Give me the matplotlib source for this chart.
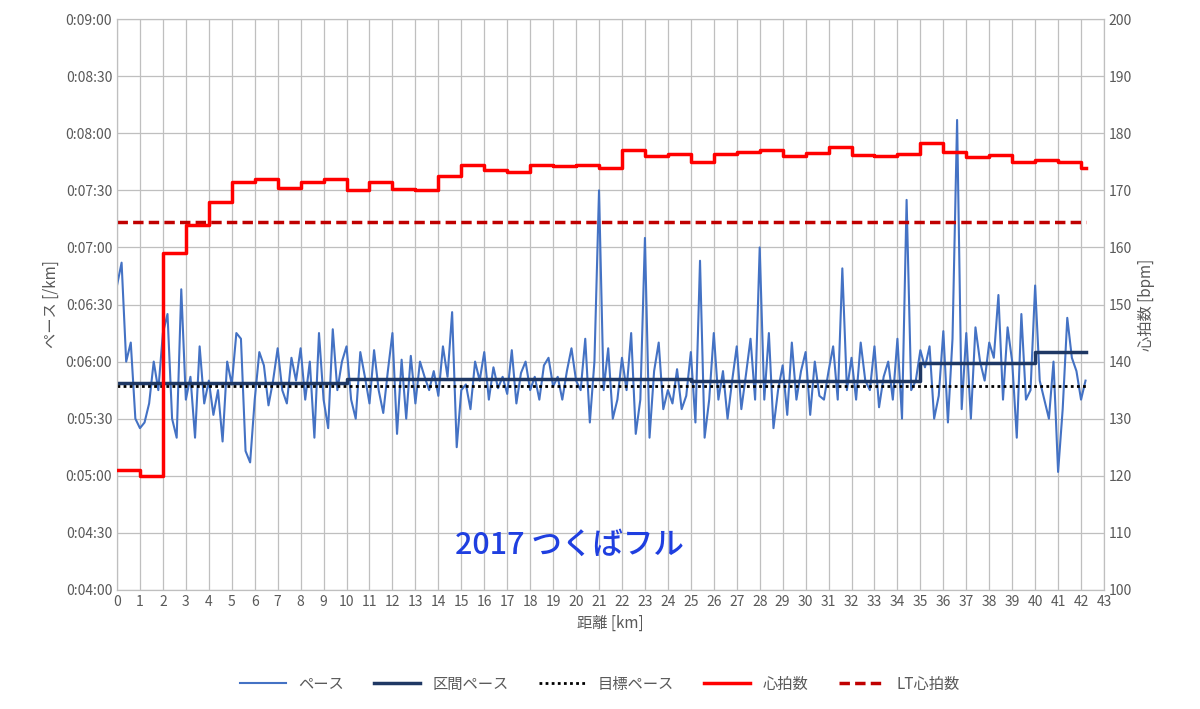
import matplotlib
matplotlib.use("Agg")
import matplotlib.pyplot as plt
import numpy as np
from matplotlib.ticker import FuncFormatter, MultipleLocator

plt.rcParams['font.family'] = ['Noto Sans CJK JP', 'DejaVu Sans']

pace_sec = [400,412,360,370,330, 325,328,338,360,345, 375,385,330,320,398,
 340,352,320,368,338, 350,332,345,318,360, 348,375,372,313,307,
 340,365,358,337,350, 367,345,338,362,350, 367,340,360,320,375,
 340,325,377,345,360, 368,340,330,365,352, 338,366,345,333,355,
 375,322,361,330,363, 338,360,352,345,355, 342,368,352,386,315,
 345,348,335,360,350, 365,340,357,346,352, 343,366,338,354,360,
 345,352,340,358,362, 347,352,340,355,367, 350,345,372,328,360,
 450,345,367,330,340, 362,345,375,322,340, 425,320,355,370,335,
 345,338,356,335,342, 365,328,413,320,340, 375,340,355,330,350,
 368,335,353,372,340, 420,340,375,325,345, 358,332,370,340,355,
 365,332,360,342,340, 355,368,340,409,345, 362,340,370,350,345,
 368,336,352,360,340, 372,330,445,345,350, 366,357,368,330,342,
 376,328,372,487,335, 375,330,378,360,350, 370,362,395,340,378,
 360,320,385,340,345, 400,350,340,330,360, 302,335,383,362,355,
 340,350]
pace_km = [i*0.2 for i in range(len(pace_sec))]
pace_km[-1] = 42.195

hr_edges = list(range(0, 43)) + [42.195]
hr_values = [121,120,159,164,168,171.5,172,170.5,171.5,172,170,171.5,170.3,170,172.5,
 174.5,173.5,173.3,174.5,174.3,174.5,174,177,176,176.3,175,176.3,176.8,177,176,
 176.6,177.6,176.2,176,176.3,178.3,176.8,175.8,176.2,175,175.3,175,174]
lt_hr = 164.5

seg_edges = [0, 10, 25, 35, 40, 42.195]
seg_pace = [349, 351, 350, 359, 365]
target_pace = 347

fig = plt.figure(figsize=(12, 7.09), dpi=100)
ax = fig.add_axes([0.0975, 0.168, 0.8225, 0.805])
ax2 = ax.twinx()

ax.plot(pace_km, pace_sec, color='#4472C4', lw=1.5, zorder=3)
ax.step(seg_edges, seg_pace + [seg_pace[-1]], where='post', color='#1F3864', lw=2.5, zorder=4)
ax.plot([0, 42.195], [target_pace, target_pace], color='black', lw=2, ls=(0, (1, 1.2)), zorder=4)
ax2.step(hr_edges, hr_values + [hr_values[-1]], where='post', color='#FF0000', lw=2.5, zorder=5)
ax2.plot([0, 42.195], [lt_hr, lt_hr], color='#C00000', lw=2.5, ls=(0, (3, 1.5)))

ax.set_xlim(0, 43)
ax.set_ylim(240, 540)
ax2.set_ylim(100, 200)
ax.xaxis.set_major_locator(MultipleLocator(1))
ax.yaxis.set_major_locator(MultipleLocator(30))
ax2.yaxis.set_major_locator(MultipleLocator(10))
ax.yaxis.set_major_formatter(FuncFormatter(lambda v, p: f"0:{int(v)//60:02d}:{int(v)%60:02d}"))
ax.grid(True, color='#BFBFBF', lw=0.9)
ax.set_axisbelow(True)
for a in (ax, ax2):
    a.tick_params(length=0, labelsize=10, colors='#595959')
    for s in a.spines.values():
        s.set_color('#BFBFBF')
ax.set_xlabel('距離 [km]', color='#595959', fontsize=11)
ax.set_ylabel('ペース [/km]', color='#595959', fontsize=11)
ax2.set_ylabel('心拍数 [bpm]', color='#595959', fontsize=11)

ax.text(19.7, 263.5, '2017 つくばフル', color='#1F3FE0', fontsize=22, style='italic', fontweight='medium', ha='center', va='center')

from matplotlib.lines import Line2D
handles = [Line2D([], [], color='#4472C4', lw=1.5),
           Line2D([], [], color='#1F3864', lw=2.5),
           Line2D([], [], color='black', lw=2, ls=(0, (1, 1.2))),
           Line2D([], [], color='#FF0000', lw=2.5),
           Line2D([], [], color='#C00000', lw=2.5, ls=(0, (3, 1.5)))]
labels = ['ペース', '区間ペース', '目標ペース', '心拍数', 'LT心拍数']
fig.legend(handles, labels, loc='center', bbox_to_anchor=(0.5, 0.035), ncol=5, frameon=False,
           fontsize=11, labelcolor='#595959', handlelength=3, columnspacing=2)

fig.savefig('out.png', dpi=100)
